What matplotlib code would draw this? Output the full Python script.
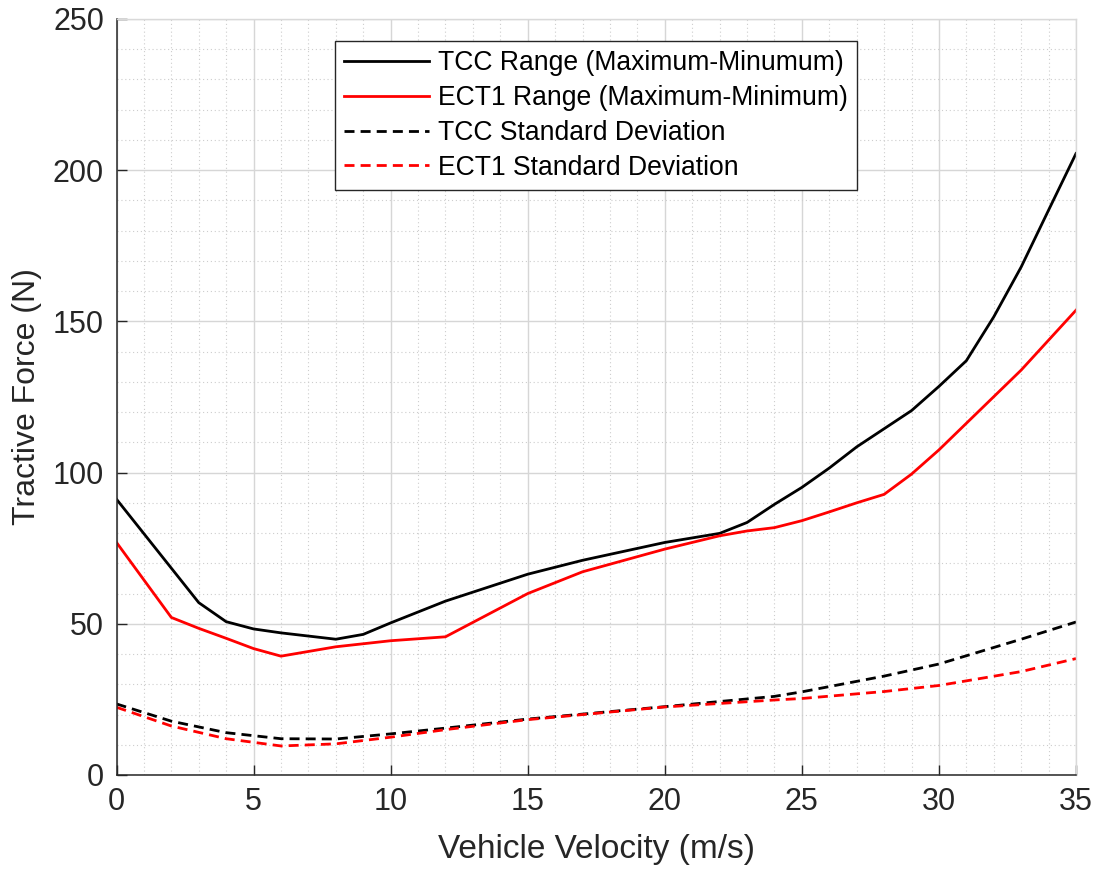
import matplotlib
matplotlib.use("Agg")
import matplotlib.pyplot as plt

plt.rcParams['font.family'] = ['Liberation Sans', 'DejaVu Sans']

# TCC range (max - min)
v_tcc_rng = [0, 2, 3, 4, 5, 6, 8, 9, 10, 12, 15, 17, 20, 22, 23, 24, 25,
             26, 27, 28, 29, 30, 31, 32, 33, 34, 35]
f_tcc_rng = [91.2, 68.4, 57.0, 50.7, 48.3, 47.0, 44.9, 46.5, 50.3, 57.5, 66.4,
             71.0, 76.9, 79.9, 83.5, 89.5, 95.1, 101.5, 108.5, 114.5, 120.5,
             128.5, 137.0, 151.5, 168.0, 186.8, 205.5]

# ECT1 range (max - min)
v_ect_rng = [0, 2, 3, 4, 5, 6, 8, 10, 12, 15, 17, 20, 22, 23, 24, 25, 26, 27,
             28, 29, 30, 31, 32, 33, 34, 35]
f_ect_rng = [76.9, 52.1, 48.5, 45.2, 41.8, 39.3, 42.4, 44.4, 45.7, 60.0, 67.2,
             74.7, 79.1, 80.7, 81.8, 84.1, 87.0, 90.0, 92.8, 99.5, 107.5, 116.3,
             125.1, 133.9, 143.8, 153.7]

# standard deviations
v_std = [0, 2, 4, 6, 8, 10, 12, 15, 20, 24, 25, 28, 30, 33, 35]
f_tcc_std = [23.5, 17.8, 14.0, 12.0, 11.9, 13.6, 15.5, 18.5, 22.6, 26.0, 27.5,
             32.7, 36.7, 44.9, 50.6]
f_ect_std = [22.4, 16.2, 12.0, 9.6, 10.3, 12.5, 15.0, 18.3, 22.5, 24.8, 25.3,
             27.6, 29.6, 34.2, 38.5]

labels = ['TCC Range (Maximum-Minumum)', 'ECT1 Range (Maximum-Minimum)',
          'TCC Standard Deviation', 'ECT1 Standard Deviation']

txt = '#262626'
fig = plt.figure(figsize=(10.97, 8.69), dpi=100)
ax = fig.add_axes([116.5 / 1097, 1 - 775 / 869, (1076 - 116.5) / 1097, (775 - 19) / 869])

lw = 2.0
ax.plot(v_tcc_rng, f_tcc_rng, color='black', lw=lw, label=labels[0])
ax.plot(v_ect_rng, f_ect_rng, color='#ff0000', lw=lw, label=labels[1])
ax.plot(v_std, f_tcc_std, color='black', lw=lw, dashes=(3.6, 2.2), label=labels[2])
ax.plot(v_std, f_ect_std, color='#ff0000', lw=lw, dashes=(3.6, 2.2), label=labels[3])

ax.set_xlim(0, 35)
ax.set_ylim(0, 250)
ax.set_xticks(range(0, 36, 5))
ax.set_yticks(range(0, 251, 50))
ax.set_xticks(range(0, 36, 1), minor=True)
ax.set_yticks(range(0, 251, 10), minor=True)
ax.grid(which='major', color='#d6d6d6', lw=1.0)
ax.grid(which='minor', color='#cdcdcd', lw=0.8, linestyle=(0, (1, 2.5)))
ax.set_axisbelow(True)

ax.tick_params(which='major', direction='in', length=7, width=1, colors=txt,
               labelsize=22, pad=9)
ax.tick_params(which='minor', length=0)
for s in ['left', 'bottom']:
    ax.spines[s].set_color(txt)
    ax.spines[s].set_linewidth(1.1)
for s in ['top', 'right']:
    ax.spines[s].set_color('#d9d9d9')
    ax.spines[s].set_linewidth(1.0)

ax.set_xlabel('Vehicle Velocity (m/s)', fontsize=24, color=txt, labelpad=12)
ax.set_ylabel('Tractive Force (N)', fontsize=23, color=txt, labelpad=8)

leg = ax.legend(loc='upper left', bbox_to_anchor=(335 / 1097, 1 - 41 / 869),
                bbox_transform=fig.transFigure, borderaxespad=0, fontsize=19.1,
                fancybox=False, framealpha=1, edgecolor=txt, handlelength=3.2,
                handletextpad=0.33, labelspacing=0.33, borderpad=0.35)
leg.get_frame().set_linewidth(1.0)

fig.savefig('out.png', dpi=100)
